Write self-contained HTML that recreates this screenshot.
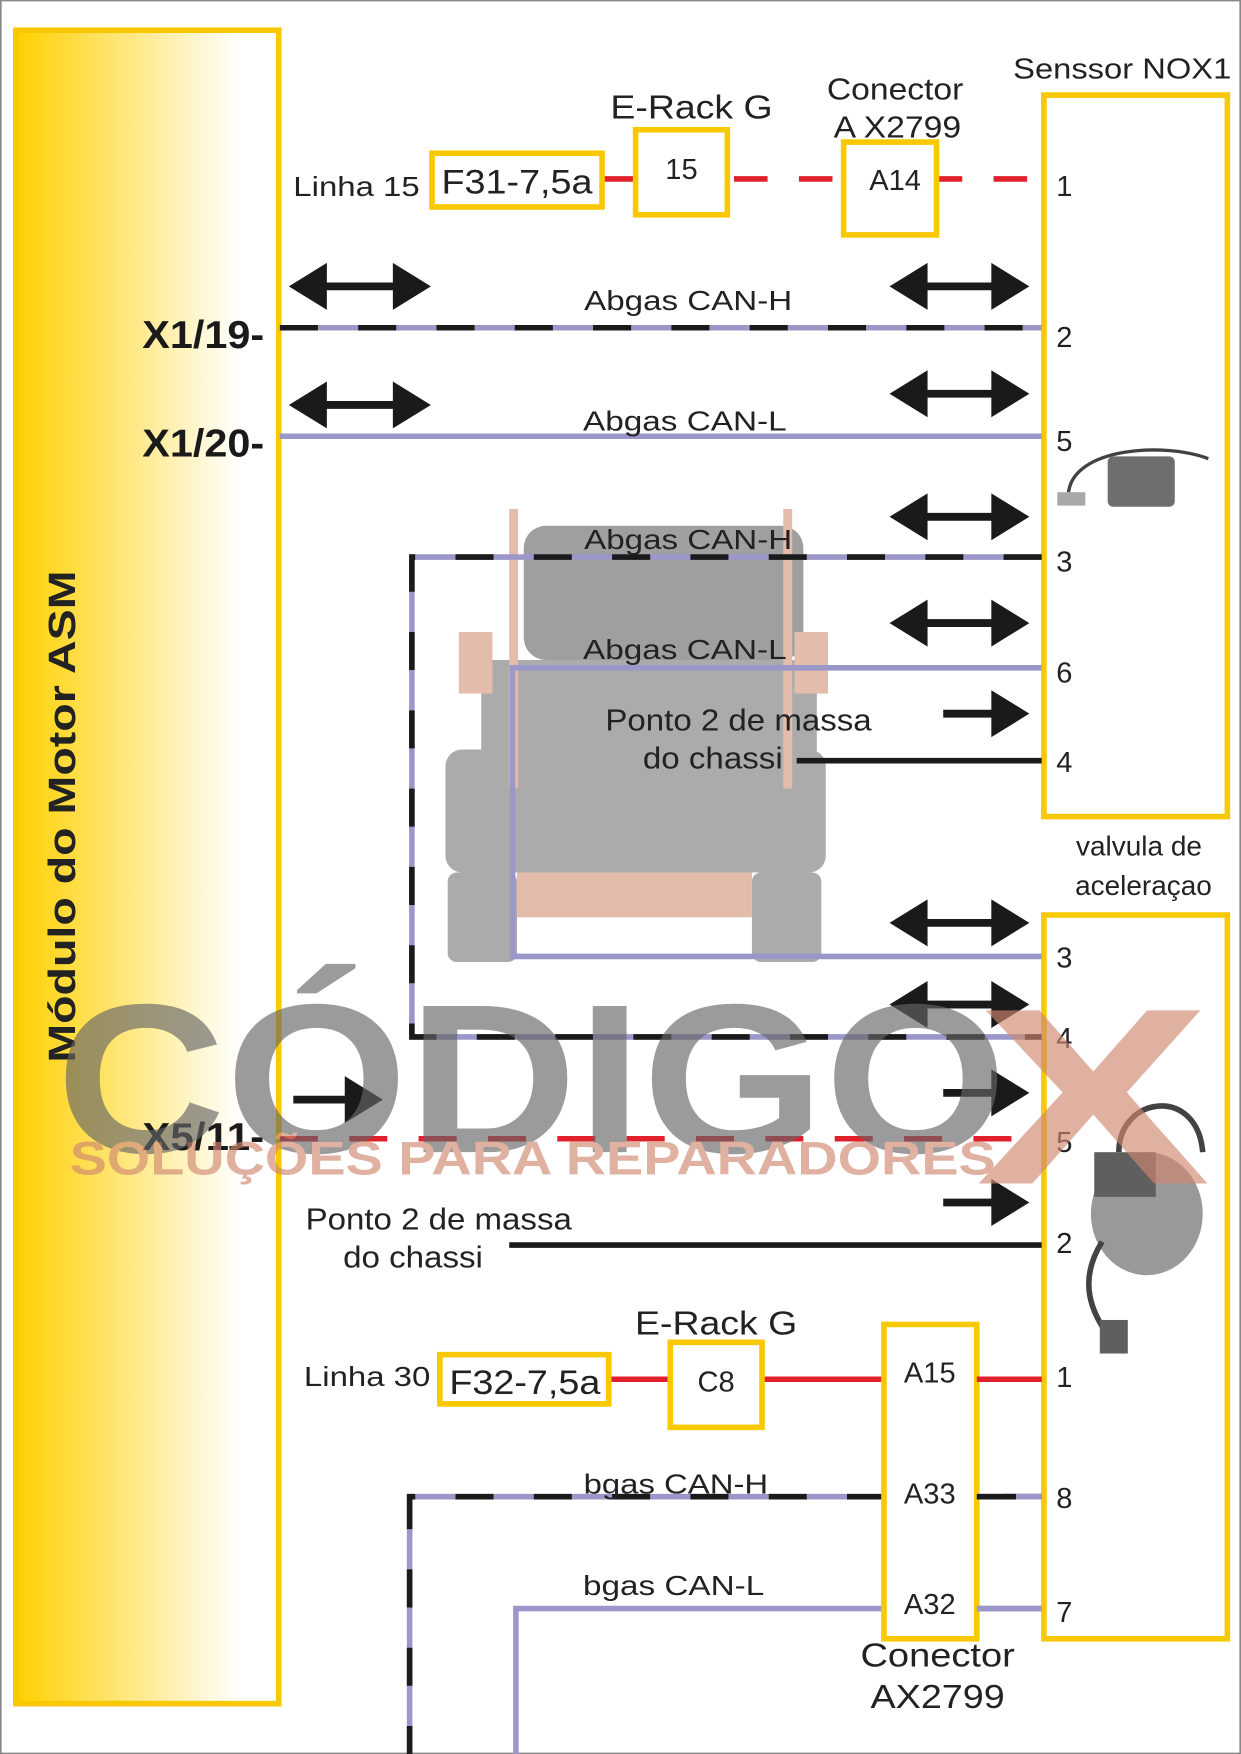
<!DOCTYPE html>
<html><head><meta charset="utf-8"><style>
html,body{margin:0;padding:0;background:#fff}
svg{display:block}
</style></head><body>
<svg width="1241" height="1754" viewBox="0 0 1109 1568" xmlns="http://www.w3.org/2000/svg" font-family="Liberation Sans, sans-serif">
<defs>
<linearGradient id="g" x1="0" x2="1" y1="0" y2="0">
<stop offset="0" stop-color="#ffd000"/><stop offset="0.85" stop-color="#fff"/><stop offset="1" stop-color="#fff"/>
</linearGradient>
</defs>
<rect x="0.5" y="0.5" width="1108" height="1567" fill="#fff" stroke="#888" stroke-width="1.5"/>

<!-- watermark truck -->
<g opacity="0.7">
<rect x="468" y="470" width="250" height="120" rx="20" fill="#777"/>
<rect x="430" y="590" width="300" height="100" fill="#888"/>
<rect x="398" y="670" width="340" height="110" rx="15" fill="#888"/>
<rect x="400" y="780" width="62" height="80" rx="8" fill="#888"/>
<rect x="672" y="780" width="62" height="80" rx="8" fill="#888"/>
<rect x="462" y="780" width="210" height="40" fill="#d9a08a"/>
<rect x="455" y="455" width="8" height="250" fill="#d9a08a"/>
<rect x="700" y="455" width="8" height="250" fill="#d9a08a"/>
<rect x="410" y="565" width="30" height="55" fill="#d9a08a"/>
<rect x="710" y="565" width="30" height="55" fill="#d9a08a"/>
</g>

<!-- ASM box -->
<rect x="14" y="27" width="235" height="1496" fill="url(#g)" stroke="#f8c800" stroke-width="5"/>
<text transform="translate(67,730) rotate(-90)" text-anchor="middle" font-size="34" font-weight="bold" fill="#222" textLength="440" lengthAdjust="spacingAndGlyphs">Módulo do Motor  ASM</text>

<!-- NOX box & valve box -->
<rect x="933" y="85" width="164" height="645" fill="none" stroke="#f8c800" stroke-width="5"/>
<rect x="933" y="818" width="164" height="647" fill="none" stroke="#f8c800" stroke-width="5"/>
<g fill="#222">
<text x="1003" y="70" font-size="26" text-anchor="middle" textLength="195" lengthAdjust="spacingAndGlyphs">Senssor NOX1</text>
<text x="1018" y="765" font-size="25" text-anchor="middle">valvula de</text>
<text x="1022" y="800" font-size="25" text-anchor="middle">aceleraçao</text>
</g>

<!-- sensor pictures (approx) -->
<g opacity="0.85">
<path d="M955,440 C960,400 1040,395 1080,410" stroke="#222" stroke-width="3" fill="none"/>
<rect x="990" y="408" width="60" height="45" rx="5" fill="#555"/>
<rect x="945" y="440" width="25" height="12" fill="#999"/>
<ellipse cx="1025" cy="1085" rx="50" ry="55" fill="#888"/>
<rect x="978" y="1030" width="55" height="40" fill="#444"/>
<path d="M1000,1030 C1000,980 1070,970 1075,1030" stroke="#222" stroke-width="5" fill="none"/>
<path d="M985,1110 C960,1150 980,1180 995,1200" stroke="#222" stroke-width="5" fill="none"/>
<rect x="983" y="1180" width="25" height="30" fill="#444"/>
</g>

<!-- pin numbers -->
<g font-size="26" fill="#222">
<text x="944" y="175">1</text><text x="944" y="310">2</text><text x="944" y="403">5</text>
<text x="944" y="511">3</text><text x="944" y="610">6</text><text x="944" y="690">4</text>
<text x="944" y="865">3</text><text x="944" y="937">4</text><text x="944" y="1030">5</text>
<text x="944" y="1120">2</text><text x="944" y="1240">1</text><text x="944" y="1348">8</text><text x="944" y="1450">7</text>
</g>

<!-- line 15 -->
<line x1="540" y1="160" x2="930" y2="160" stroke="#e0202a" stroke-width="5" stroke-dasharray="30,28"/>
<g fill="#222">
<text x="262" y="175" font-size="25" textLength="113" lengthAdjust="spacingAndGlyphs">Linha 15</text>
<rect x="386" y="137" width="152" height="48" fill="#fff" stroke="#f8c800" stroke-width="5"/>
<text x="462" y="173" font-size="31" text-anchor="middle" textLength="135" lengthAdjust="spacingAndGlyphs">F31-7,5a</text>
<text x="618" y="106" font-size="30" text-anchor="middle" textLength="145" lengthAdjust="spacingAndGlyphs">E-Rack G</text>
<rect x="568" y="116" width="82" height="76" fill="#fff" stroke="#f8c800" stroke-width="5"/>
<text x="609" y="160" font-size="26" text-anchor="middle">15</text>
<text x="800" y="89" font-size="27" text-anchor="middle" textLength="122" lengthAdjust="spacingAndGlyphs">Conector</text>
<text x="802" y="123" font-size="27" text-anchor="middle" textLength="114" lengthAdjust="spacingAndGlyphs">A X2799</text>
<rect x="754" y="127" width="83" height="83" fill="#fff" stroke="#f8c800" stroke-width="5"/>
<text x="800" y="170" font-size="26" text-anchor="middle">A14</text>
</g>

<!-- wires -->
<g stroke-width="5" fill="none">
<line x1="250" y1="293" x2="931" y2="293" stroke="#9b97c9"/>
<line x1="250" y1="293" x2="931" y2="293" stroke="#1a1a1a" stroke-dasharray="34,36"/>
<line x1="250" y1="390" x2="931" y2="390" stroke="#9b97c9"/>
<polyline points="931,498 368,498 368,927 931,927" stroke="#9b97c9"/>
<polyline points="931,498 368,498 368,927 931,927" stroke="#1a1a1a" stroke-dasharray="34,36"/>
<polyline points="931,597 458,597 458,855 931,855" stroke="#9b97c9"/>
<line x1="712" y1="680" x2="931" y2="680" stroke="#1a1a1a"/>
<line x1="250" y1="1018" x2="905" y2="1018" stroke="#e0202a" stroke-dasharray="34,28"/>
<line x1="455" y1="1113" x2="931" y2="1113" stroke="#1a1a1a"/>
<line x1="545" y1="1233" x2="931" y2="1233" stroke="#e0202a"/>
<polyline points="931,1338 366,1338 366,1570" stroke="#9b97c9"/>
<polyline points="931,1338 366,1338 366,1570" stroke="#1a1a1a" stroke-dasharray="34,36"/>
<polyline points="931,1438 461,1438 461,1570" stroke="#9b97c9"/>
</g>

<!-- labels -->
<g font-size="25" fill="#222" text-anchor="middle">
<text x="615" y="277" textLength="186" lengthAdjust="spacingAndGlyphs">Abgas CAN-H</text>
<text x="612" y="385" textLength="182" lengthAdjust="spacingAndGlyphs">Abgas CAN-L</text>
<text x="615" y="491" textLength="186" lengthAdjust="spacingAndGlyphs">Abgas CAN-H</text>
<text x="612" y="589" textLength="182" lengthAdjust="spacingAndGlyphs">Abgas CAN-L</text>
<text x="604" y="1335" textLength="165" lengthAdjust="spacingAndGlyphs">bgas CAN-H</text>
<text x="602" y="1426" textLength="162" lengthAdjust="spacingAndGlyphs">bgas CAN-L</text>
</g>
<g font-size="27" text-anchor="middle" fill="#222">
<text x="660" y="653" textLength="238" lengthAdjust="spacingAndGlyphs">Ponto 2 de massa</text>
<text x="637" y="687" textLength="125" lengthAdjust="spacingAndGlyphs">do chassi</text>
<text x="392" y="1099" textLength="238" lengthAdjust="spacingAndGlyphs">Ponto 2 de massa</text>
<text x="369" y="1133" textLength="125" lengthAdjust="spacingAndGlyphs">do chassi</text>
</g>
<g font-size="35" font-weight="bold" text-anchor="end" fill="#1a1a1a">
<text x="236" y="311" textLength="109" lengthAdjust="spacingAndGlyphs">X1/19-</text>
<text x="236" y="408" textLength="109" lengthAdjust="spacingAndGlyphs">X1/20-</text>
<text x="236" y="1028" textLength="109" lengthAdjust="spacingAndGlyphs">X5/11-</text>
</g>

<!-- linha 30 -->
<g fill="#222">
<text x="328" y="1239" font-size="25" text-anchor="middle" textLength="113" lengthAdjust="spacingAndGlyphs">Linha 30</text>
<rect x="393" y="1211" width="151" height="44" fill="#fff" stroke="#f8c800" stroke-width="5"/>
<text x="469" y="1246" font-size="31" text-anchor="middle" textLength="135" lengthAdjust="spacingAndGlyphs">F32-7,5a</text>
<text x="640" y="1193" font-size="30" text-anchor="middle" textLength="145" lengthAdjust="spacingAndGlyphs">E-Rack G</text>
<rect x="599" y="1200" width="82" height="76" fill="#fff" stroke="#f8c800" stroke-width="5"/>
<text x="640" y="1244" font-size="26" text-anchor="middle">C8</text>
<rect x="790" y="1184" width="83" height="281" fill="#fff" stroke="#f8c800" stroke-width="5"/>
</g>
<line x1="873" y1="1233" x2="931" y2="1233" stroke="#e0202a" stroke-width="5"/>
<line x1="873" y1="1338" x2="931" y2="1338" stroke="#9b97c9" stroke-width="5"/>
<line x1="873" y1="1338" x2="908" y2="1338" stroke="#1a1a1a" stroke-width="5"/>
<line x1="873" y1="1438" x2="931" y2="1438" stroke="#9b97c9" stroke-width="5"/>
<g font-size="26" text-anchor="middle" fill="#222">
<text x="831" y="1236">A15</text><text x="831" y="1344">A33</text><text x="831" y="1443">A32</text>
<text x="838" y="1490" font-size="30" textLength="138" lengthAdjust="spacingAndGlyphs">Conector</text>
<text x="838" y="1527" font-size="30" textLength="120" lengthAdjust="spacingAndGlyphs">AX2799</text>
</g>

<!-- arrows -->
<g stroke="#1a1a1a" stroke-width="7" fill="none">
<line x1="275" y1="256" x2="368" y2="256"/><line x1="275" y1="362" x2="368" y2="362"/>
<line x1="812" y1="256" x2="903" y2="256"/><line x1="812" y1="352" x2="903" y2="352"/>
<line x1="812" y1="462" x2="903" y2="462"/><line x1="812" y1="557" x2="903" y2="557"/>
<line x1="812" y1="825" x2="903" y2="825"/><line x1="812" y1="898" x2="903" y2="898"/>
<line x1="843" y1="638" x2="900" y2="638"/><line x1="843" y1="977" x2="900" y2="977"/>
<line x1="843" y1="1075" x2="900" y2="1075"/><line x1="262" y1="983" x2="320" y2="983"/>
</g>
<g fill="#1a1a1a">
<path d="M258,256 L292,235 L292,277 Z M385,256 L351,235 L351,277 Z"/>
<path d="M258,362 L292,341 L292,383 Z M385,362 L351,341 L351,383 Z"/>
<path d="M795,256 L829,235 L829,277 Z M920,256 L886,235 L886,277 Z"/>
<path d="M795,352 L829,331 L829,373 Z M920,352 L886,331 L886,373 Z"/>
<path d="M795,462 L829,441 L829,483 Z M920,462 L886,441 L886,483 Z"/>
<path d="M795,557 L829,536 L829,578 Z M920,557 L886,536 L886,578 Z"/>
<path d="M795,825 L829,804 L829,846 Z M920,825 L886,804 L886,846 Z"/>
<path d="M795,898 L829,877 L829,919 Z M920,898 L886,877 L886,919 Z"/>
<path d="M920,638 L886,617 L886,659 Z M920,977 L886,956 L886,998 Z M920,1075 L886,1054 L886,1096 Z M342,983 L308,962 L308,1004 Z"/>
</g>

<!-- watermark text -->
<g opacity="0.65">
<text x="50" y="1030" font-size="190" font-weight="bold" fill="#666" textLength="850" lengthAdjust="spacingAndGlyphs">CÓDIGO</text>
<text x="872" y="1058" font-size="225" font-weight="bold" fill="#d08870" textLength="210" lengthAdjust="spacingAndGlyphs">X</text>
<text x="62" y="1050" font-size="42" font-weight="bold" fill="#d08870" textLength="828" lengthAdjust="spacingAndGlyphs">SOLUÇÕES PARA REPARADORES</text>
</g>
</svg>
</body></html>
